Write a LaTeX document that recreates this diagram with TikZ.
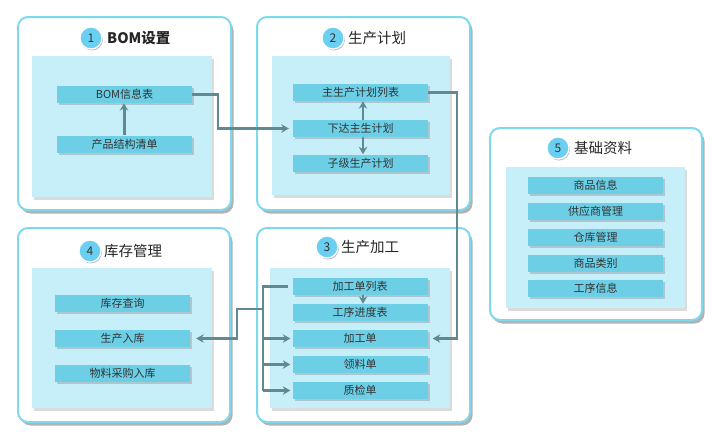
\documentclass[tikz,border=0pt]{standalone}
\usepackage{fontspec}
\setmainfont{Noto Sans CJK SC}
\usetikzlibrary{shadows,arrows.meta}
\definecolor{outerc}{HTML}{7FD9EE}
\definecolor{innerc}{HTML}{C6EFFA}
\definecolor{itemc}{HTML}{6CCFE6}
\definecolor{numc}{HTML}{6ACFF0}
\definecolor{connc}{HTML}{5F8A94}
\definecolor{txtc}{HTML}{333333}
\begin{document}
\begin{tikzpicture}[x=1pt,y=-1pt,
  outer/.style={draw=outerc, line width=2pt, fill=white, rounded corners=10pt, inner sep=0pt,
    drop shadow={shadow xshift=2.5pt,shadow yshift=-3.5pt,fill=black!60,opacity=0.5}},
  inner/.style={fill=innerc, inner sep=0pt,
    drop shadow={shadow xshift=2pt,shadow yshift=-2.5pt,fill=black!40,opacity=0.35}},
  item/.style={fill=itemc, inner sep=0pt, minimum width=135pt, minimum height=17pt,
    font=\fontsize{11}{12}\selectfont, text=txtc,
    drop shadow={shadow xshift=2pt,shadow yshift=-2pt,fill=black!45,opacity=0.4}},
  num/.style={circle, fill=numc, draw=white, line width=1.2pt, minimum size=22pt, inner sep=0pt,
    font=\fontsize{12}{13}\selectfont, text=txtc,
    drop shadow={shadow xshift=1pt,shadow yshift=-1.5pt,fill=black!50,opacity=0.45}},
  ttl/.style={anchor=west, inner sep=0pt, font=\fontsize{14.5}{16}\selectfont, text=black!85},
  conn/.style={draw=connc, line width=2.4pt},
  arr/.style={conn, -{Stealth[length=7.5pt,width=8.5pt]}},
]
\useasboundingbox (0,0) rectangle (720,440);

% panels
\node[outer, minimum width=213pt, minimum height=193pt] (p1) at (124.5,113.5) {};
\node[inner, minimum width=180pt, minimum height=141pt] (i1) at (122,126.5) {};
\node[outer, minimum width=213pt, minimum height=193pt] (p2) at (363.5,113.5) {};
\node[inner, minimum width=178pt, minimum height=139pt] (i2) at (361,125.5) {};
\node[outer, minimum width=213pt, minimum height=194pt] (p3) at (363.5,325) {};
\node[inner, minimum width=180pt, minimum height=140pt] (i3) at (360,338) {};
\node[outer, minimum width=212pt, minimum height=194pt] (p4) at (124,325) {};
\node[inner, minimum width=180pt, minimum height=140pt] (i4) at (122,338) {};
\node[outer, minimum width=212pt, minimum height=192pt] (p5) at (596,224) {};
\node[inner, minimum width=179pt, minimum height=141pt] (i5) at (595.5,237.5) {};

% titles
\node[num] (n1) at (91,38) {1};
\node[ttl, font=\fontsize{14.5}{16}\selectfont\bfseries] (t1) at (107,38) {BOM设置};
\node[num] (n2) at (333,38) {2};
\node[ttl] (t2) at (348,38) {生产计划};
\node[num] (n3) at (327,247) {3};
\node[ttl] (t3) at (341,247) {生产加工};
\node[num] (n4) at (90,251) {4};
\node[ttl] (t4) at (104,251) {库存管理};
\node[num] (n5) at (558,148) {5};
\node[ttl] (t5) at (574,148) {基础资料};

% items panel 1
\node[item] (bom) at (124.5,94.5) {BOM信息表};
\node[item] (cp) at (124.5,144) {产品结构清单};
% panel 2
\node[item] (zsc) at (360.5,92.5) {主生产计划列表};
\node[item] (xd) at (360.5,128.5) {下达主生计划};
\node[item] (zj) at (360.5,163) {子级生产计划};
% panel 3
\node[item] (jgl) at (360,286.5) {加工单列表};
\node[item] (gx) at (360,312.5) {工序进度表};
\node[item] (jgd) at (360,338.5) {加工单};
\node[item] (ll) at (360,364.5) {领料单};
\node[item] (zj2) at (360,390.5) {质检单};
% panel 4
\node[item] (kc) at (122.5,303.5) {库存查询};
\node[item] (scrk) at (122.5,338.5) {生产入库};
\node[item] (wl) at (122.5,373) {物料采购入库};
% panel 5
\node[item] (sp) at (595.5,185.5) {商品信息};
\node[item] (gys) at (595.5,211.5) {供应商管理};
\node[item] (ck) at (595.5,237) {仓库管理};
\node[item] (lb) at (595.5,263) {商品类别};
\node[item] (gxx) at (595.5,288.5) {工序信息};

% connectors
\coordinate (a1) at (218,94.5);
\coordinate (a2) at (218,128.5);
\draw[arr, shorten >=4pt] (bom.east) -- (a1) -- (a2) -- (xd.west);

\coordinate (b1) at (457,92.5);
\coordinate (b2) at (457,338.5);
\draw[arr, shorten >=5pt] (zsc.east) -- (b1) -- (b2) -- (jgd.east);

\draw[arr, line width=3pt] (124,0 |- cp.north) -- (124,0 |- bom.south);
\draw[arr] (363,0 |- xd.north) -- (363,0 |- zsc.south);
\draw[arr] (363,0 |- xd.south) -- (363,0 |- zj.north);
\draw[arr] (363,0 |- jgl.south) -- (363,0 |- gx.north);

\coordinate (c1) at (263,286.5);
\coordinate (c2) at (263,390.5);
\coordinate (c3) at (263,338.5);
\coordinate (c4) at (263,364.5);
\coordinate (c5) at (263,309);
\coordinate (c6) at (237,309);
\coordinate (c7) at (237,338.5);
\draw[conn, shorten <=4pt] (jgl.west) -- (c1) -- (c2);
\draw[arr, shorten >=2pt] (c2) -- (zj2.west);
\draw[arr, shorten >=2pt] (c3) -- (jgd.west);
\draw[arr, shorten >=2pt] (c4) -- (ll.west);
\draw[arr, shorten >=6pt] (c5) -- (c6) -- (c7) -- (scrk.east);
\end{tikzpicture}
\end{document}
